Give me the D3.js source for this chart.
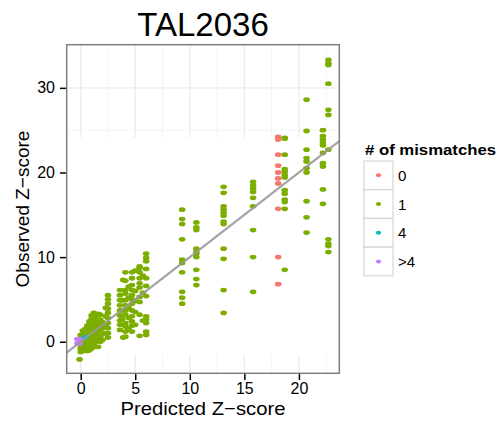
<!DOCTYPE html>
<html>
<head>
    <meta charset="utf-8">
    <title>TAL2036</title>
    <style>
        body { margin: 0; background: #fff; }
        text { font-family: "Liberation Sans", Arial, sans-serif; }
    </style>
</head>
<body>
    <svg width="503" height="426"></svg>
    <script src="https://d3js.org/d3.v7.min.js"></script>
    <script>
    // mismatch groups, legend order
    var groups = ["0", "1", "4", ">4"];
    var groupColors = ["#F8766D", "#7CAE00", "#00BFC4", "#C77CFF"];

    var xTicks = [0, 5, 10, 15, 20];
    var yTicks = [0, 10, 20, 30];

    // 0 mismatches: [predicted, observed]
    var mm0 = [
      [18.1, 24.2], [18.1, 23.9], [18.1, 22.1], [18.1, 20.8], [18.1, 20.0],
      [18.1, 19.3], [18.1, 18.7], [18.1, 15.7], [18.1, 10.0], [18.1, 6.8]
    ];

    // 1 mismatch
    var mm1 = [
      // dense blob near the origin
      [0.0, -1.2], [0.0, -0.8], [0.0, -0.4], [0.0, 0.0], [0.0, 0.4], [0.0, 0.8],
      [0.2, -1.1], [0.2, -0.6], [0.2, -0.1], [0.2, 0.4], [0.2, 0.9], [0.2, 1.3],
      [0.4, -1.0], [0.4, -0.5], [0.4, 0.0], [0.4, 0.5], [0.4, 1.0], [0.4, 1.5],
      [0.6, -1.1], [0.6, -0.6], [0.6, -0.1], [0.6, 0.4], [0.6, 0.9], [0.6, 1.4], [0.6, 1.9],
      [0.8, -1.0], [0.8, -0.5], [0.8, 0.0], [0.8, 0.5], [0.8, 1.0], [0.8, 1.5], [0.8, 2.0], [0.8, 2.4],
      [1.0, -0.8], [1.0, -0.3], [1.0, 0.2], [1.0, 0.7], [1.0, 1.2], [1.0, 1.7], [1.0, 2.2], [1.0, 2.7], [1.0, 3.1],
      [1.2, -0.5], [1.2, 0.0], [1.2, 0.5], [1.2, 1.0], [1.2, 1.5], [1.2, 2.0], [1.2, 2.5], [1.2, 3.0], [1.2, 3.4],
      [1.4, -0.6], [1.4, 0.0], [1.4, 0.6], [1.4, 1.1], [1.4, 1.6], [1.4, 2.1], [1.4, 2.6], [1.4, 3.1],
      [1.6, -0.6], [1.6, 0.2], [1.6, 0.8], [1.6, 1.4], [1.6, 2.0], [1.6, 2.6], [1.6, 3.3],
      [1.8, 0.0], [1.8, 0.6], [1.8, 1.2], [1.8, 2.0], [1.8, 2.6], [1.8, 3.2],
      [2.0, 0.2], [2.0, 0.9], [2.0, 1.6], [2.0, 2.3],
      [-0.1, -2.1],
      // x around 2.5 to 6
      [2.5, 5.5], [2.5, 5.0], [2.5, 4.5], [2.5, 3.9], [2.5, 3.4], [2.5, 2.8],
      [2.5, 2.2], [2.5, 1.6], [2.5, 1.0], [2.5, 0.5],
      [2.3, 4.0], [2.3, 3.0], [2.3, 2.0], [2.3, 1.0],
      [3.6, 6.1], [3.6, 5.5], [3.6, 4.9], [3.6, 4.3], [3.6, 3.7], [3.6, 3.1],
      [3.6, 2.5], [3.6, 2.0], [3.6, 1.4],
      [3.9, 0.5], [3.9, 7.3], [3.8, 4.9], [3.8, 3.7], [3.8, 2.7],
      [4.1, 8.2], [4.1, 7.2], [4.1, 6.1], [4.1, 5.7], [4.1, 4.9], [4.1, 4.3],
      [4.1, 3.7], [4.1, 3.2], [4.1, 2.2], [4.1, 1.8], [4.1, 1.2], [4.1, 0.6],
      [4.4, 6.5], [4.4, 5.2], [4.4, 4.0], [4.4, 2.8], [4.4, 1.5],
      [4.7, 8.2], [4.7, 7.5], [4.7, 6.7], [4.7, 6.1], [4.7, 5.5], [4.7, 5.0],
      [4.7, 4.5], [4.7, 3.7], [4.7, 3.0], [4.7, 2.4], [4.7, 1.9], [4.7, 1.2],
      [5.0, 8.4], [5.0, 6.0], [5.0, 4.8], [5.0, 3.5], [5.0, 2.0],
      [5.4, 8.9], [5.4, 8.2], [5.4, 7.5], [5.4, 6.9], [5.4, 6.4], [5.4, 5.3],
      [5.4, 4.7], [5.4, 3.2], [5.4, 0.7], [5.4, 8.7],
      [5.7, 7.8], [5.7, 5.8], [5.7, 2.5],
      [6.0, 10.4], [6.0, 9.9], [6.0, 9.5], [6.0, 8.6], [6.0, 7.5], [6.0, 6.6],
      [6.0, 5.4], [6.0, 3.0], [6.0, 2.6], [6.0, 2.2], [6.0, 1.2], [6.0, 0.8],
      // columns further out
      [9.3, 15.6], [9.3, 14.5], [9.3, 13.9], [9.3, 12.1], [9.3, 9.7],
      [9.3, 9.3], [9.3, 8.2], [9.3, 5.9], [9.3, 5.2], [9.3, 4.5],
      [10.6, 14.1], [10.6, 13.5], [10.6, 13.2], [10.6, 11.0], [10.6, 10.6],
      [10.6, 10.4], [10.6, 10.0], [10.6, 8.5], [10.6, 7.4], [10.6, 6.7],
      [13.1, 18.3], [13.1, 17.6], [13.1, 16.0], [13.1, 15.6], [13.1, 15.2], [13.1, 14.9],
      [13.1, 14.2], [13.1, 13.9], [13.1, 11.0], [13.1, 9.8], [13.1, 6.1], [13.1, 3.4],
      [15.8, 18.9], [15.8, 18.5], [15.8, 18.1], [15.8, 17.7], [15.8, 17.0],
      [15.8, 16.0], [15.8, 13.2], [15.8, 10.0], [15.8, 5.9],
      [18.7, 24.1], [18.7, 24.0], [18.7, 22.1], [18.7, 20.4], [18.7, 20.1], [18.7, 19.7],
      [18.7, 19.4], [18.7, 17.9], [18.7, 17.5], [18.7, 16.8], [18.7, 16.5], [18.7, 15.7], [18.7, 8.5],
      [20.7, 28.6], [20.7, 24.9], [20.7, 22.7], [20.7, 21.7], [20.7, 21.3],
      [20.7, 20.5], [20.7, 20.0], [20.7, 16.6], [20.7, 14.7], [20.7, 12.9],
      [22.2, 25.0], [22.2, 24.3], [22.2, 23.9], [22.2, 23.5], [22.2, 23.2],
      [22.2, 22.3], [22.2, 21.1], [22.2, 20.7], [22.2, 18.0], [22.2, 16.3],
      [22.7, 33.3], [22.7, 32.9], [22.7, 32.7], [22.7, 30.5], [22.7, 27.4], [22.7, 26.8],
      [22.7, 22.7], [22.7, 12.1], [22.7, 11.6], [22.7, 11.3], [22.7, 10.6]
    ];

    // 4 mismatches (hidden under the blob)
    var mm4 = [[0.4, 0.5]];

    // more than 4 mismatches
    var mmMore = [[-0.3, 0.3], [-0.3, -0.2], [-0.1, 0.3], [-0.1, -0.2]];

    var xMinorGrid = [2.5, 7.5, 12.5, 17.5, 22.5];

    var svg = d3.select("svg");

    var x = d3.scaleLinear().domain([-1.28, 23.7]).range([66.7, 339.3]);
    var y = d3.scaleLinear().domain([-3.73, 35.1]).range([373.3, 44.7]);
    var color = d3.scaleOrdinal().domain(groups).range(groupColors);

    var pLeft = x.range()[0], pRight = x.range()[1],
        pTop = y.range()[1], pBottom = y.range()[0];

    // title
    svg.append("text")
        .attr("x", (pLeft + pRight) / 2)
        .attr("y", 36)
        .attr("text-anchor", "middle")
        .style("font-size", "33px")
        .text("TAL2036");

    // grid
    var grid = svg.append("g");
    grid.selectAll(".vmaj").data(xTicks).enter().append("line")
        .attr("x1", x).attr("x2", x).attr("y1", pTop).attr("y2", pBottom)
        .attr("stroke", "#ececec").attr("stroke-width", 1.4);
    grid.selectAll(".vmin").data(xMinorGrid).enter().append("line")
        .attr("x1", x).attr("x2", x).attr("y1", pTop).attr("y2", pBottom)
        .attr("stroke", "#f4f4f4").attr("stroke-width", 1);
    grid.selectAll(".hmaj").data([30]).enter().append("line")
        .attr("y1", y).attr("y2", y).attr("x1", pLeft).attr("x2", pRight)
        .attr("stroke", "#ececec").attr("stroke-width", 1.4);
    grid.selectAll(".hmin").data([25]).enter().append("line")
        .attr("y1", y).attr("y2", y).attr("x1", pLeft).attr("x2", pRight)
        .attr("stroke", "#f4f4f4").attr("stroke-width", 1);
    // the grid is blanked out in the middle of the panel
    grid.append("rect")
        .attr("x", pLeft + 1).attr("width", pRight - pLeft - 2)
        .attr("y", 137.5).attr("height", 355 - 137.5)
        .attr("fill", "#fff");

    // points
    var layers = [[mm0, "0"], [mm1, "1"], [mm4, "4"], [mmMore, ">4"]];
    layers.forEach(function(l) {
      svg.append("g").selectAll("ellipse")
          .data(l[0])
        .enter().append("ellipse")
          .attr("cx", function(d) { return x(d[0]); })
          .attr("cy", function(d) { return y(d[1]); })
          .attr("rx", 3.3)
          .attr("ry", 2.4)
          .attr("fill", color(l[1]));
    });

    // y = x reference line
    svg.append("line")
        .attr("x1", x(-1.28)).attr("y1", y(-1.28))
        .attr("x2", x(23.7)).attr("y2", y(23.7))
        .attr("stroke", "#999")
        .attr("stroke-width", 2.2)
        .attr("stroke-opacity", 0.9);

    // panel border
    svg.append("rect")
        .attr("x", pLeft).attr("y", pTop)
        .attr("width", pRight - pLeft).attr("height", pBottom - pTop)
        .attr("fill", "none")
        .attr("stroke", "#7f7f7f")
        .attr("stroke-width", 1.5);

    // axes
    var xAxis = svg.append("g")
        .attr("transform", "translate(0," + (pBottom + 0.75) + ")")
        .call(d3.axisBottom(x).tickValues(xTicks).tickSize(6).tickPadding(3));
    var yAxis = svg.append("g")
        .attr("transform", "translate(" + (pLeft - 0.75) + ",0)")
        .call(d3.axisLeft(y).tickValues(yTicks).tickSize(6).tickPadding(5));
    [xAxis, yAxis].forEach(function(a) {
      a.select(".domain").remove();
      a.selectAll(".tick line").attr("stroke", "#000").attr("stroke-width", 1.5);
      a.selectAll(".tick text")
          .style("font-family", "'Liberation Sans', Arial, sans-serif")
          .style("font-size", "16px")
          .attr("fill", "#000");
    });

    // axis titles
    svg.append("text")
        .attr("x", (pLeft + pRight) / 2)
        .attr("y", 415)
        .attr("text-anchor", "middle")
        .style("font-size", "19px")
        .attr("textLength", 165)
        .attr("lengthAdjust", "spacingAndGlyphs")
        .text("Predicted Z\u2212score");
    svg.append("text")
        .attr("transform", "translate(29," + ((pTop + pBottom) / 2) + ") rotate(-90)")
        .attr("text-anchor", "middle")
        .style("font-size", "19px")
        .text("Observed Z\u2212score");

    // legend
    var legend = svg.append("g").attr("transform", "translate(364,0)");
    legend.append("text")
        .attr("x", 1).attr("y", 155)
        .style("font-size", "15px")
        .style("font-weight", "bold")
        .attr("textLength", 131)
        .attr("lengthAdjust", "spacingAndGlyphs")
        .text("# of mismatches");
    var keyH = 28.7;
    var keys = legend.selectAll(".key").data(groups).enter().append("g")
        .attr("transform", function(d, i) { return "translate(0," + (161 + i * keyH) + ")"; });
    keys.append("rect")
        .attr("width", 29).attr("height", keyH)
        .attr("fill", "#fff")
        .attr("stroke", "#d6d6d6")
        .attr("stroke-width", 1.2);
    keys.append("ellipse")
        .attr("cx", 14.5).attr("cy", keyH / 2)
        .attr("rx", 2.6).attr("ry", 2)
        .attr("fill", function(d) { return color(d); });
    keys.append("text")
        .attr("x", 34).attr("y", keyH / 2 + 5.5)
        .style("font-size", "15px")
        .text(function(d) { return d; });
    </script>
</body>
</html>
